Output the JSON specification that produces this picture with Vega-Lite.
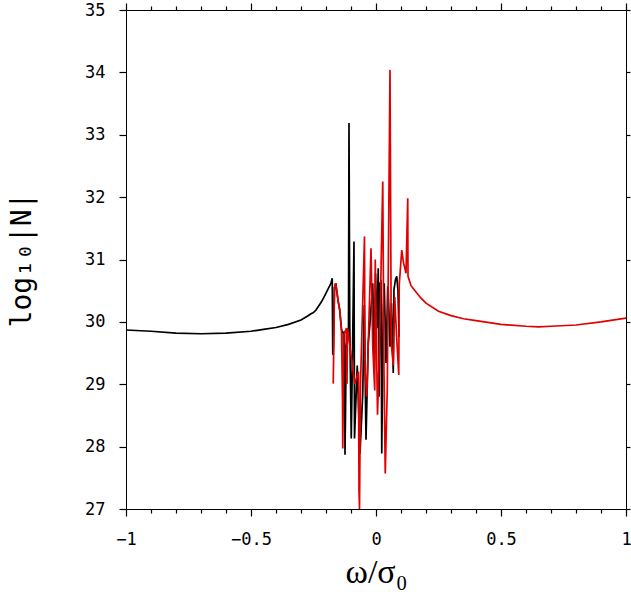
{
  "$schema": "https://vega.github.io/schema/vega-lite/v6.json",
  "width": 500,
  "height": 499,
  "autosize": "none",
  "padding": {"left": 126, "top": 10, "right": 5, "bottom": 102},
  "background": "white",
  "config": {
    "view": {"stroke": "black", "strokeWidth": 1},
    "axis": {
      "domain": false,
      "grid": false,
      "labelColor": "black",
      "labelFont": "DejaVu Sans Mono",
      "labelFontSize": 17,
      "labelFlush": false,
      "titleColor": "black",
      "titleFontWeight": "normal"
    }
  },
  "datasets": {
    "black": [
      {"w": -1.0, "v": 29.87}, {"w": -0.9, "v": 29.85}, {"w": -0.8, "v": 29.82},
      {"w": -0.7, "v": 29.81}, {"w": -0.6, "v": 29.82}, {"w": -0.5, "v": 29.85},
      {"w": -0.45, "v": 29.88}, {"w": -0.4, "v": 29.91}, {"w": -0.35, "v": 29.96},
      {"w": -0.3, "v": 30.03}, {"w": -0.275, "v": 30.09}, {"w": -0.26, "v": 30.13},
      {"w": -0.25, "v": 30.15}, {"w": -0.24, "v": 30.19}, {"w": -0.23, "v": 30.25},
      {"w": -0.22, "v": 30.31}, {"w": -0.21, "v": 30.38}, {"w": -0.2, "v": 30.46},
      {"w": -0.19, "v": 30.54}, {"w": -0.18, "v": 30.62}, {"w": -0.175, "v": 30.7},
      {"w": -0.173, "v": 29.5}, {"w": -0.171, "v": 29.47}, {"w": -0.166, "v": 30.55},
      {"w": -0.161, "v": 30.62}, {"w": -0.152, "v": 30.35}, {"w": -0.145, "v": 30.19},
      {"w": -0.138, "v": 29.87}, {"w": -0.131, "v": 29.82}, {"w": -0.13, "v": 28.75},
      {"w": -0.126, "v": 29.85}, {"w": -0.124, "v": 27.87}, {"w": -0.119, "v": 29.6},
      {"w": -0.11, "v": 29.9}, {"w": -0.108, "v": 33.19}, {"w": -0.105, "v": 29.98},
      {"w": -0.099, "v": 28.13}, {"w": -0.094, "v": 29.5}, {"w": -0.088, "v": 31.29},
      {"w": -0.086, "v": 28.13}, {"w": -0.075, "v": 29.3}, {"w": -0.064, "v": 27.89},
      {"w": -0.053, "v": 28.85}, {"w": -0.047, "v": 30.27}, {"w": -0.04, "v": 28.11},
      {"w": -0.031, "v": 29.66}, {"w": -0.024, "v": 29.98}, {"w": -0.013, "v": 30.62},
      {"w": -0.007, "v": 29.23}, {"w": -0.002, "v": 30.78}, {"w": 0.003, "v": 29.9},
      {"w": 0.009, "v": 30.86}, {"w": 0.012, "v": 28.8}, {"w": 0.016, "v": 30.62},
      {"w": 0.02, "v": 30.64}, {"w": 0.023, "v": 27.89}, {"w": 0.029, "v": 30.19},
      {"w": 0.033, "v": 30.62}, {"w": 0.04, "v": 29.34}, {"w": 0.047, "v": 30.57},
      {"w": 0.049, "v": 30.51}, {"w": 0.056, "v": 29.6}, {"w": 0.062, "v": 30.3},
      {"w": 0.069, "v": 29.18}, {"w": 0.072, "v": 30.52}, {"w": 0.078, "v": 30.68},
      {"w": 0.083, "v": 30.73}, {"w": 0.088, "v": 30.5}, {"w": 0.092, "v": 29.76}
    ],
    "red": [
      {"w": -0.171, "v": 29.01}, {"w": -0.166, "v": 30.55}, {"w": -0.161, "v": 30.62},
      {"w": -0.152, "v": 30.35}, {"w": -0.145, "v": 30.19}, {"w": -0.138, "v": 29.87},
      {"w": -0.134, "v": 28.75}, {"w": -0.133, "v": 27.97}, {"w": -0.128, "v": 29.8},
      {"w": -0.118, "v": 29.9}, {"w": -0.116, "v": 29.01}, {"w": -0.114, "v": 29.9},
      {"w": -0.104, "v": 29.6}, {"w": -0.085, "v": 29.01}, {"w": -0.07, "v": 29.2},
      {"w": -0.068, "v": 27.3}, {"w": -0.066, "v": 27.0}, {"w": -0.062, "v": 29.0},
      {"w": -0.046, "v": 31.37}, {"w": -0.044, "v": 29.23}, {"w": -0.037, "v": 28.8},
      {"w": -0.02, "v": 31.18}, {"w": -0.013, "v": 29.6}, {"w": -0.005, "v": 28.9},
      {"w": -0.003, "v": 31.0}, {"w": 0.006, "v": 28.51}, {"w": 0.014, "v": 29.6},
      {"w": 0.027, "v": 32.25}, {"w": 0.032, "v": 29.2}, {"w": 0.037, "v": 27.57},
      {"w": 0.045, "v": 28.9}, {"w": 0.056, "v": 34.04}, {"w": 0.061, "v": 29.66},
      {"w": 0.069, "v": 29.3}, {"w": 0.075, "v": 30.4}, {"w": 0.082, "v": 29.8},
      {"w": 0.091, "v": 29.15}, {"w": 0.093, "v": 30.6}, {"w": 0.103, "v": 31.15},
      {"w": 0.11, "v": 30.95}, {"w": 0.12, "v": 30.78}, {"w": 0.127, "v": 31.98},
      {"w": 0.128, "v": 30.73}, {"w": 0.14, "v": 30.58}, {"w": 0.16, "v": 30.48},
      {"w": 0.18, "v": 30.38}, {"w": 0.2, "v": 30.3}, {"w": 0.25, "v": 30.17},
      {"w": 0.3, "v": 30.1}, {"w": 0.35, "v": 30.05}, {"w": 0.4, "v": 30.02},
      {"w": 0.5, "v": 29.96}, {"w": 0.6, "v": 29.93}, {"w": 0.65, "v": 29.92},
      {"w": 0.7, "v": 29.93}, {"w": 0.8, "v": 29.95}, {"w": 0.9, "v": 30.0},
      {"w": 1.0, "v": 30.06}
    ]
  },
  "layer": [
    {
      "data": {"name": "black"},
      "mark": {"type": "line", "color": "black", "strokeWidth": 1.7, "clip": true},
      "encoding": {
        "x": {
          "field": "w", "type": "quantitative",
          "scale": {"domain": [-1, 1], "nice": false, "zero": false},
          "axis": {
            "orient": "bottom", "values": [-1, -0.5, 0, 0.5, 1], "format": "~g",
            "ticks": true, "tickColor": "black", "tickWidth": 1.2,
            "offset": 0, "tickSize": 7, "labelPadding": 15,
            "title": "ω/σ₀", "titleFont": "Liberation Serif", "titleFontSize": 34,
            "titlePadding": 8
          }
        },
        "y": {
          "field": "v", "type": "quantitative",
          "scale": {"domain": [27, 35], "nice": false, "zero": false},
          "axis": {
            "orient": "left", "values": [27, 28, 29, 30, 31, 32, 33, 34, 35],
            "ticks": true, "tickColor": "black", "tickWidth": 1.2,
            "offset": 0, "tickSize": 7, "labelPadding": 14,
            "title": "log₁₀|N|", "titleFont": "DejaVu Sans Mono", "titleFontSize": 28,
            "titlePadding": 48
          }
        }
      }
    },
    {
      "data": {"name": "red"},
      "mark": {"type": "line", "color": "#e00000", "strokeWidth": 1.7, "clip": true},
      "encoding": {
        "x": {
          "field": "w", "type": "quantitative",
          "axis": {
            "orient": "bottom",
            "values": [-0.9, -0.8, -0.7, -0.6, -0.4, -0.3, -0.2, -0.1, 0.1, 0.2, 0.3, 0.4, 0.6, 0.7, 0.8, 0.9],
            "ticks": true, "tickColor": "black", "tickWidth": 1.2,
            "offset": 0, "tickSize": 4, "labels": false, "title": null
          }
        },
        "y": {
          "field": "v", "type": "quantitative",
          "axis": {
            "orient": "right", "values": [27, 28, 29, 30, 31, 32, 33, 34, 35],
            "ticks": true, "tickColor": "black", "tickWidth": 1.2,
            "offset": 0, "tickSize": 4, "labels": false, "title": null
          }
        }
      }
    },
    {
      "data": {"name": "red"},
      "mark": {"type": "line", "opacity": 0},
      "encoding": {
        "x": {
          "field": "w", "type": "quantitative",
          "axis": {
            "orient": "top", "values": [-1, -0.5, 0, 0.5, 1],
            "ticks": true, "tickColor": "black", "tickWidth": 1.2,
            "offset": 0, "tickSize": 7, "labels": false, "title": null
          }
        },
        "y": {"field": "v", "type": "quantitative", "axis": null}
      }
    },
    {
      "data": {"name": "red"},
      "mark": {"type": "line", "opacity": 0},
      "encoding": {
        "x": {
          "field": "w", "type": "quantitative",
          "axis": {
            "orient": "top",
            "values": [-0.9, -0.8, -0.7, -0.6, -0.4, -0.3, -0.2, -0.1, 0.1, 0.2, 0.3, 0.4, 0.6, 0.7, 0.8, 0.9],
            "ticks": true, "tickColor": "black", "tickWidth": 1.2,
            "offset": 0, "tickSize": 4, "labels": false, "title": null
          }
        },
        "y": {"field": "v", "type": "quantitative", "axis": null}
      }
    }
  ],
  "resolve": {"axis": {"x": "independent", "y": "independent"}}
}
